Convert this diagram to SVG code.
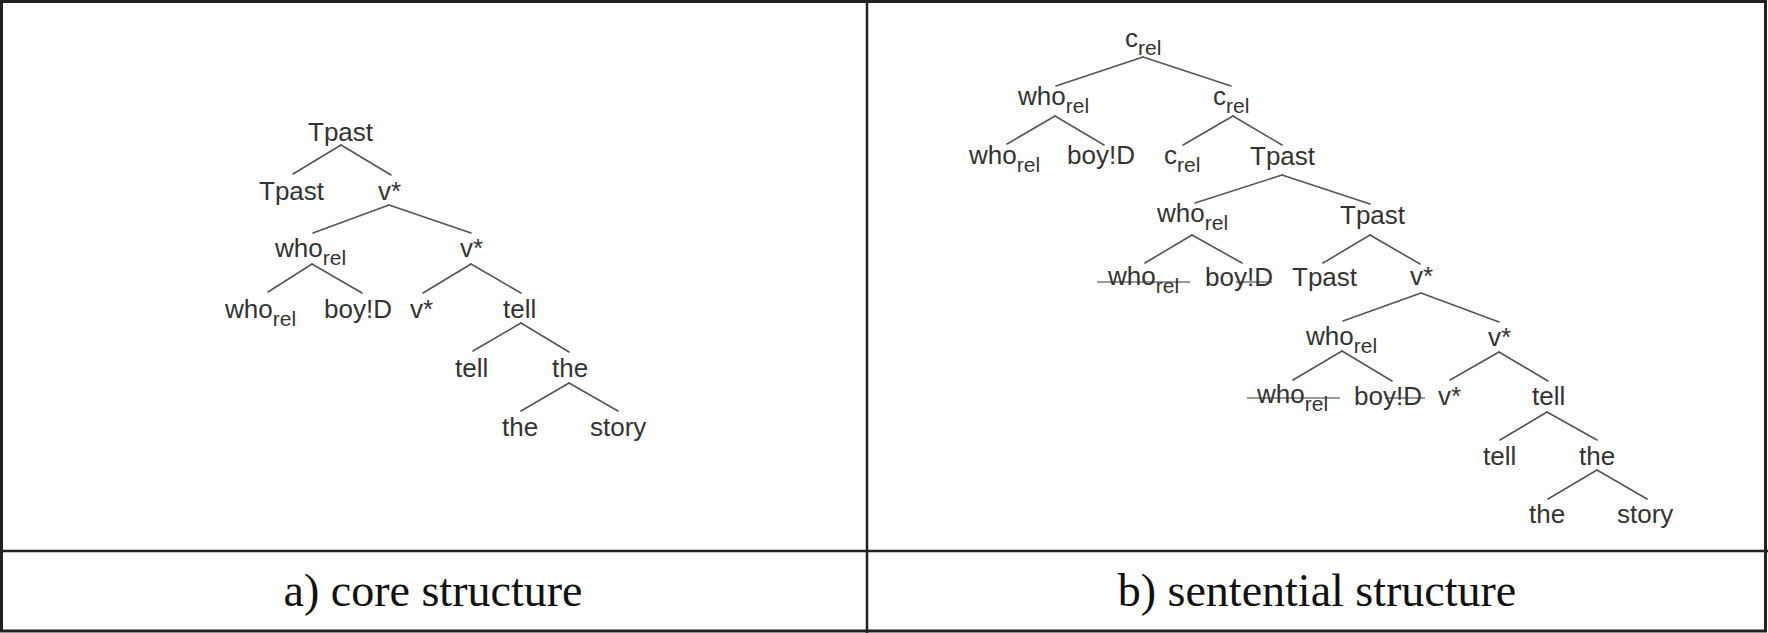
<svg xmlns="http://www.w3.org/2000/svg" width="1768" height="633" viewBox="0 0 1768 633">
<style>
.t{font-family:"Liberation Sans",Arial,sans-serif;font-size:26px;fill:#333}
.s{font-size:21px}
.cap{font-family:"Liberation Serif","Times New Roman",serif;font-size:46px;fill:#111;text-anchor:middle}
.e line{stroke:#555;stroke-width:1.6;stroke-linecap:round}
.k{stroke:#999;stroke-width:2}
.f{fill:none;stroke:#222}
</style>
<rect width="1768" height="633" fill="#fff"/>
<g id="frame">
<rect class="f" x="1.5" y="1.5" width="1764" height="629.5" stroke-width="3"/>
<line class="f" x1="867" y1="0" x2="867" y2="633" stroke-width="2.5"/>
<line class="f" x1="0" y1="551" x2="1768" y2="551" stroke-width="2.5"/>
</g>
<g id="captions">
<text class="cap" x="433" y="606">a) core structure</text>
<text class="cap" x="1317" y="606">b) sentential structure</text>
</g>
<g id="edges-a" class="e">
<line x1="341" y1="145" x2="293" y2="174"/><line x1="341" y1="145" x2="391" y2="175"/>
<line x1="389" y1="205" x2="313" y2="233"/><line x1="389" y1="205" x2="471" y2="233"/>
<line x1="312" y1="264" x2="268" y2="292"/><line x1="312" y1="264" x2="362" y2="293"/>
<line x1="471" y1="264" x2="423" y2="293"/><line x1="471" y1="264" x2="521" y2="293"/>
<line x1="521" y1="323" x2="473" y2="351"/><line x1="521" y1="323" x2="569" y2="352"/>
<line x1="569" y1="383" x2="521" y2="411"/><line x1="569" y1="383" x2="618" y2="411"/>
</g>
<g id="tree-a">
<g id="a0"><text class="t" x="308" y="141">Tpast</text></g>
<g id="a1"><text class="t" x="259" y="200">Tpast</text></g>
<g id="a2"><text class="t" x="378" y="200">v*</text></g>
<g id="a3"><text class="t" x="275" y="257">who<tspan class="s" dy="8">rel</tspan></text></g>
<g id="a4"><text class="t" x="460" y="257">v*</text></g>
<g id="a5"><text class="t" x="225" y="318">who<tspan class="s" dy="8">rel</tspan></text></g>
<g id="a6"><text class="t" x="324" y="318">boy!D</text></g>
<g id="a7"><text class="t" x="410" y="318">v*</text></g>
<g id="a8"><text class="t" x="503" y="318">tell</text></g>
<g id="a9"><text class="t" x="455" y="377">tell</text></g>
<g id="a10"><text class="t" x="552" y="377">the</text></g>
<g id="a11"><text class="t" x="502" y="436">the</text></g>
<g id="a12"><text class="t" x="590" y="436">story</text></g>
</g>
<g id="edges-b" class="e">
<line x1="1143" y1="57" x2="1056" y2="86"/><line x1="1143" y1="57" x2="1231" y2="86"/>
<line x1="1055" y1="116" x2="1007" y2="144"/><line x1="1055" y1="116" x2="1104" y2="145"/>
<line x1="1233" y1="116" x2="1183" y2="145"/><line x1="1233" y1="116" x2="1282" y2="145"/>
<line x1="1282" y1="175" x2="1195" y2="203"/><line x1="1282" y1="175" x2="1370" y2="204"/>
<line x1="1192" y1="235" x2="1145" y2="263"/><line x1="1192" y1="235" x2="1242" y2="263"/>
<line x1="1370" y1="235" x2="1323" y2="263"/><line x1="1370" y1="235" x2="1420" y2="264"/>
<line x1="1421" y1="293" x2="1343" y2="321"/><line x1="1421" y1="293" x2="1499" y2="322"/>
<line x1="1342" y1="351" x2="1293" y2="380"/><line x1="1342" y1="351" x2="1392" y2="381"/>
<line x1="1499" y1="352" x2="1450" y2="380"/><line x1="1499" y1="352" x2="1548" y2="381"/>
<line x1="1547" y1="412" x2="1500" y2="440"/><line x1="1547" y1="412" x2="1597" y2="440"/>
<line x1="1597" y1="470" x2="1548" y2="499"/><line x1="1597" y1="470" x2="1647" y2="499"/>
</g>
<g id="strikes">
<line class="k" x1="1097" y1="282" x2="1190" y2="282"/>
<line class="k" x1="1236" y1="282" x2="1272" y2="282"/>
<line class="k" x1="1247" y1="398" x2="1340" y2="398"/>
<line class="k" x1="1385" y1="398" x2="1425" y2="398"/>
</g>
<g id="tree-b">
<g id="b0"><text class="t" x="1125" y="47">c<tspan class="s" dy="8">rel</tspan></text></g>
<g id="b1"><text class="t" x="1018" y="105">who<tspan class="s" dy="8">rel</tspan></text></g>
<g id="b2"><text class="t" x="1213" y="105">c<tspan class="s" dy="8">rel</tspan></text></g>
<g id="b3"><text class="t" x="969" y="164">who<tspan class="s" dy="8">rel</tspan></text></g>
<g id="b4"><text class="t" x="1067" y="164">boy!D</text></g>
<g id="b5"><text class="t" x="1164" y="164">c<tspan class="s" dy="8">rel</tspan></text></g>
<g id="b6"><text class="t" x="1250" y="165">Tpast</text></g>
<g id="b7"><text class="t" x="1157" y="222">who<tspan class="s" dy="8">rel</tspan></text></g>
<g id="b8"><text class="t" x="1340" y="224">Tpast</text></g>
<g id="b9"><text class="t" x="1108" y="285">who<tspan class="s" dy="8">rel</tspan></text></g>
<g id="b10"><text class="t" x="1205" y="286">boy!D</text></g>
<g id="b11"><text class="t" x="1292" y="286">Tpast</text></g>
<g id="b12"><text class="t" x="1410" y="285">v*</text></g>
<g id="b13"><text class="t" x="1306" y="345">who<tspan class="s" dy="8">rel</tspan></text></g>
<g id="b14"><text class="t" x="1488" y="346">v*</text></g>
<g id="b15"><text class="t" x="1257" y="403">who<tspan class="s" dy="8">rel</tspan></text></g>
<g id="b16"><text class="t" x="1354" y="405">boy!D</text></g>
<g id="b17"><text class="t" x="1438" y="405">v*</text></g>
<g id="b18"><text class="t" x="1532" y="405">tell</text></g>
<g id="b19"><text class="t" x="1483" y="465">tell</text></g>
<g id="b20"><text class="t" x="1579" y="465">the</text></g>
<g id="b21"><text class="t" x="1529" y="523">the</text></g>
<g id="b22"><text class="t" x="1617" y="523">story</text></g>
</g>
</svg>
